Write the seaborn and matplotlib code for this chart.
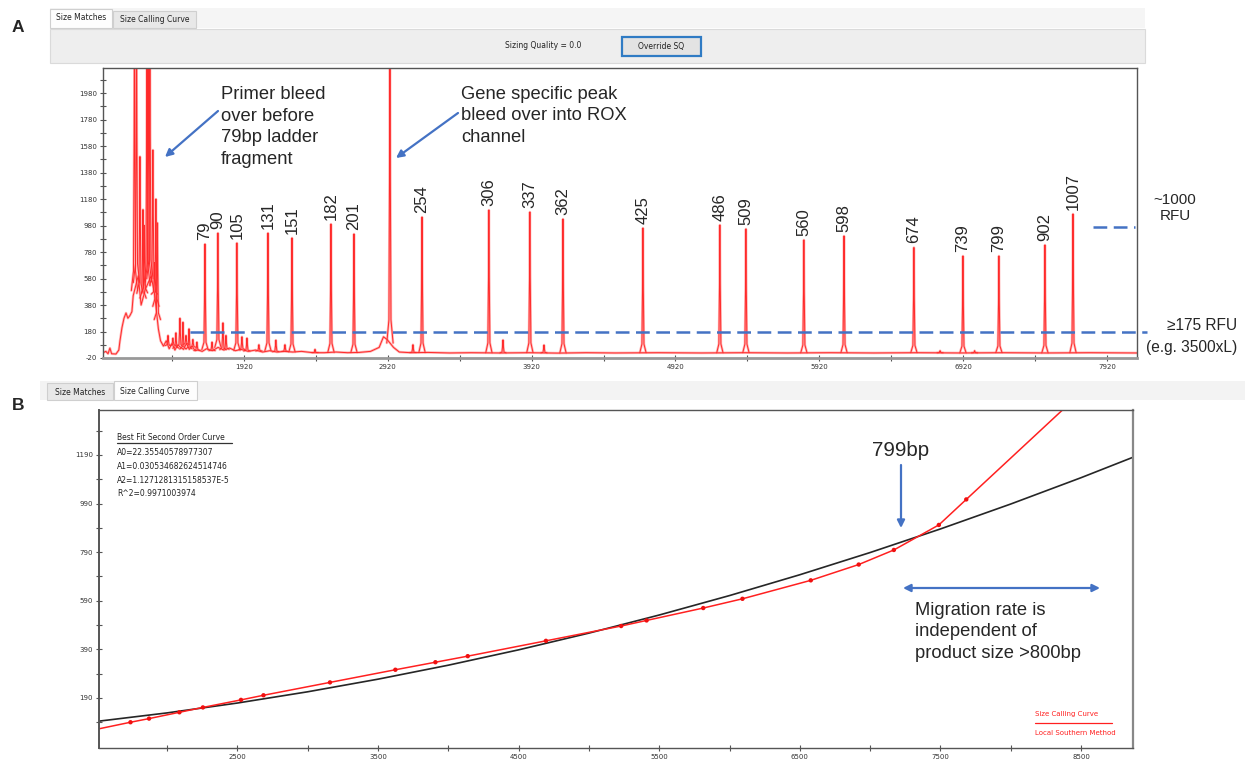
import numpy as np
import pandas as pd
import matplotlib
matplotlib.use("Agg")
import matplotlib.pyplot as plt
from matplotlib.patches import Rectangle, FancyArrowPatch
from matplotlib.lines import Line2D
from matplotlib.ticker import FixedLocator
import seaborn as sns

# ---------------- data: panel A (ROX channel electropherogram) ----------------
ladder_size = [79, 90, 105, 131, 151, 182, 201, 254, 306, 337, 362, 425, 486,
               509, 560, 598, 674, 739, 799, 902, 1007]
ladder_scan = [1649, 1739, 1871, 2087, 2254, 2525, 2685, 3158, 3623, 3908, 4138,
               4694, 5229, 5410, 5813, 6092, 6578, 6919, 7169, 7489, 7684]
ladder_rfu = [840, 923, 848, 923, 886, 991, 916, 1044, 1097, 1082, 1029, 961,
              984, 954, 871, 901, 814, 750, 750, 833, 1067]

# other (non-ladder) peaks: primer bleed cluster, ROX bleed, small artefacts
spike_scan = [1159, 1173, 1197, 1218, 1228, 1246, 1256, 1266, 1287, 1298, 1308,
              1318, 1392, 1426, 1447, 1475, 1496, 1517, 1538, 1565, 1593, 1698,
              1774, 1795, 1906, 1941, 2024, 2142, 2205, 2414, 2935, 3095, 3721,
              4006, 6760, 7000]
spike_rfu = [2600, 2600, 1500, 1100, 980, 2600, 2600, 2600, 1550, 700, 1180,
             1000, 150, 130, 170, 280, 250, 150, 200, 120, 100, 100, 245, 150,
             140, 130, 80, 115, 80, 45, 2600, 80, 116, 78, 35, 35]

# baseline
base_scan = [940, 960, 975, 988, 1000, 1030, 1050, 1058, 1072, 1086, 1100, 1113,
             1127, 1141, 1150, 1185, 1205, 1235, 1275, 1300, 1325, 1340, 1360,
             1380, 1400, 1420, 1440, 1460, 1480, 1500, 1520, 1540, 1560, 1580,
             1600, 1630, 1660, 1700, 1740, 1780, 1820, 1860, 1900, 1950, 2000,
             2050, 2100, 2150, 2200, 2260, 2320, 2400, 2480, 2560, 2640, 2720,
             2800, 2860, 2890, 2915, 2960, 3000, 3080, 3200, 3350, 3500, 3700,
             3900, 4100, 4300, 4500, 4800, 5100, 5400, 5700, 6000, 6300, 6600,
             6900, 7200, 7500, 7800, 8129]
base_rfu = [20, 30, 12, 55, 12, 10, 40, 110, 210, 280, 320, 280, 300, 330, 450,
            600, 380, 500, 600, 450, 200, 110, 70, 110, 50, 90, 40, 80, 60, 45,
            90, 45, 70, 35, 40, 30, 50, 35, 60, 40, 55, 35, 45, 30, 40, 25, 35,
            25, 30, 25, 30, 20, 20, 25, 20, 22, 30, 60, 140, 120, 60, 25, 20, 22,
            18, 20, 18, 20, 17, 20, 18, 20, 18, 20, 18, 20, 18, 20, 18, 20, 18,
            20, 18]

a_xticks = [1920, 2920, 3920, 4920, 5920, 6920, 7920]
a_yticks = [-20, 180, 380, 580, 780, 980, 1180, 1380, 1580, 1780, 1980]
threshold_rfu = 175
typical_rfu = 970

# ---------------- data: panel B (size calling curve) ----------------
curve_scan = [1515] + ladder_scan[1:] + [8400]      # local Southern, with end extensions
curve_size = [63] + ladder_size[1:] + [1392]
fit_scan = [1500, 2000, 2500, 3000, 3500, 4000, 4500, 5000, 5500, 6000, 6500,
            7000, 7500, 8000, 8500, 9000]
fit_size = [93.5, 128.5, 169.1, 215.4, 267.3, 324.8, 388.0, 456.8, 531.3, 611.3,
            697.0, 788.4, 885.4, 988.0, 1096.3, 1210.1]
b_xticks = [2500, 3500, 4500, 5500, 6500, 7500, 8500]
b_yticks = [190, 390, 590, 790, 990, 1190]
fit_text = ["A0=22.35540578977307", "A1=0.030534682624514746",
            "A2=1.1271281315158537E-5", "R^2=0.9971003974"]

# ---------------- style ----------------
sns.set_theme(style="ticks")
plt.rcParams["font.family"] = ["Liberation Sans", "DejaVu Sans"]

W, H = 1245, 761
fig = plt.figure(figsize=(W / 100, H / 100), dpi=100)


def fx(px):
    return px / W


def fy(py):
    return 1 - py / H


def rect(x, y, w, h, fc, ec="none", lw=0.8):
    fig.patches.append(Rectangle((fx(x), fy(y + h)), w / W, h / H, transform=fig.transFigure,
                                 facecolor=fc, edgecolor=ec, linewidth=lw, zorder=0))


def arrow(x0, y0, x1, y1, style="-|>"):
    fig.patches.append(FancyArrowPatch((fx(x0), fy(y0)), (fx(x1), fy(y1)),
                                       transform=fig.transFigure, arrowstyle=style,
                                       mutation_scale=11, color="#4472C4", lw=1.6,
                                       shrinkA=0, shrinkB=0))


BLUE = "#4472C4"

# ---------------- window chrome, panel A ----------------
rect(50, 8, 1095, 20, "#f5f5f5")
rect(50, 9, 62, 19, "#fdfdfd", "#cfcfcf")
rect(113, 11, 83, 17, "#e8e8e8", "#cfcfcf")
rect(50, 29, 1095, 34, "#eeeeee", "#dadada")
rect(622, 37, 79, 19, "#e3e3e3", "#2f7bc4", 1.6)
fig.text(fx(81), fy(18), "Size Matches", fontsize=5.5, family="DejaVu Sans",
         ha="center", va="center", color="#222")
fig.text(fx(155), fy(19), "Size Calling Curve", fontsize=5.5, family="DejaVu Sans",
         ha="center", va="center", color="#222")
fig.text(fx(543), fy(46), "Sizing Quality = 0.0", fontsize=5.5, family="DejaVu Sans",
         ha="center", va="center", color="#222")
fig.text(fx(661), fy(46), "Override SQ", fontsize=5.5, family="DejaVu Sans",
         ha="center", va="center", color="#222")

# ---------------- window chrome, panel B ----------------
rect(40, 381, 1205, 19, "#f3f3f3")
rect(47, 383, 66, 17, "#e8e8e8", "#cfcfcf")
rect(114, 381, 83, 19, "#fdfdfd", "#cfcfcf")
fig.text(fx(80), fy(392), "Size Matches", fontsize=5.5, family="DejaVu Sans",
         ha="center", va="center", color="#222")
fig.text(fx(155), fy(391), "Size Calling Curve", fontsize=5.5, family="DejaVu Sans",
         ha="center", va="center", color="#222")

fig.text(fx(18), fy(28), "A", fontsize=12.5, fontweight="bold", ha="center", va="center")
fig.text(fx(18), fy(405), "B", fontsize=12.5, fontweight="bold", ha="center", va="center")

# ---------------- panel A ----------------
axA = fig.add_axes([fx(103), fy(358), fx(1137) - fx(103), fy(68) - fy(358)])

shape_dx = [-22, -7, -2.5, 0, 2.5, 7, 22]
shape_f = [0, 0.07, 0.55, 1, 0.55, 0.07, 0]
rows = [("base", s, r) for s, r in zip(base_scan, base_rfu)]
for i, (s, h) in enumerate(zip(ladder_scan + spike_scan, ladder_rfu + spike_rfu)):
    b = float(np.interp(s, base_scan, base_rfu))
    for dx, f in zip(shape_dx, shape_f):
        rows.append((f"p{i}", s + dx, b + f * (h - b)))
trace = pd.DataFrame(rows, columns=["pid", "scan", "rfu"])

sns.lineplot(data=trace, x="scan", y="rfu", units="pid", estimator=None, sort=False,
             color="#ffb3b3", lw=1.8, ax=axA, legend=False)
sns.lineplot(data=trace, x="scan", y="rfu", units="pid", estimator=None, sort=False,
             color="#ff2a2a", lw=0.7, ax=axA, legend=False)

for s, h, lab in zip(ladder_scan, ladder_rfu, ladder_size):
    axA.annotate(str(lab), (s, h), xytext=(0, 3), textcoords="offset points",
                 rotation=90, ha="center", va="bottom", fontsize=12)

axA.plot([1545, 8200], [threshold_rfu, threshold_rfu], color=BLUE, lw=1.8,
         ls=(0, (5.5, 2.6)), clip_on=False, zorder=5)
axA.plot([7823, 8115], [typical_rfu, typical_rfu], color=BLUE, lw=1.8,
         ls=(0, (5.5, 2.6)), clip_on=False, zorder=5)

axA.set_xlim(940, 8129)
axA.set_ylim(-20, 2169)
axA.xaxis.set_major_locator(FixedLocator(a_xticks))
axA.xaxis.set_minor_locator(FixedLocator([t - 500 for t in a_xticks] + [8420]))
axA.yaxis.set_major_locator(FixedLocator(a_yticks))
axA.yaxis.set_minor_locator(FixedLocator([t + 100 for t in a_yticks]))
axA.set_xticklabels([str(t) for t in a_xticks])
axA.set_yticklabels([str(t) for t in a_yticks])
axA.set_xlabel("")
axA.set_ylabel("")

# ---------------- panel B ----------------
axB = fig.add_axes([fx(99), fy(748), fx(1133) - fx(99), fy(410) - fy(748)])
fit_df = pd.DataFrame({"scan": fit_scan, "size": fit_size})
curve_df = pd.DataFrame({"scan": curve_scan, "size": curve_size})
pts_df = pd.DataFrame({"scan": ladder_scan[1:], "size": ladder_size[1:]})
sns.lineplot(data=fit_df, x="scan", y="size", color="#262626", lw=1.2, ax=axB)
sns.lineplot(data=curve_df, x="scan", y="size", color="#ff2020", lw=1.1, ax=axB)
sns.scatterplot(data=pts_df, x="scan", y="size", color="#f01010", s=10,
                edgecolor="none", ax=axB, zorder=4)

axB.set_xlim(1515, 8870)
axB.set_ylim(-16, 1375)
axB.xaxis.set_major_locator(FixedLocator(b_xticks))
axB.xaxis.set_minor_locator(FixedLocator([t - 500 for t in b_xticks]))
axB.yaxis.set_major_locator(FixedLocator(b_yticks))
axB.yaxis.set_minor_locator(FixedLocator([t - 100 for t in b_yticks] + [1290]))
axB.set_xticklabels([str(t) for t in b_xticks])
axB.set_yticklabels([str(t) for t in b_yticks])
axB.set_xlabel("")
axB.set_ylabel("")

# fit legend (top-left)
axB.text(0.0174, 0.920, "Best Fit Second Order Curve", transform=axB.transAxes,
         fontsize=5.5, family="DejaVu Sans", va="center", color="#222")
axB.add_line(Line2D([0.0174, 0.129], [0.903, 0.903], transform=axB.transAxes,
                    color="#333", lw=0.9))
for k, t in enumerate(fit_text):
    axB.text(0.0174, 0.873 - k * 0.0405, t, transform=axB.transAxes, fontsize=5.5,
             family="DejaVu Sans", va="center", color="#222")

# method legend (bottom-right)
axB.text(0.905, 0.1006, "Size Calling Curve", transform=axB.transAxes, fontsize=5,
         family="DejaVu Sans", va="center", color="#ff2020")
axB.add_line(Line2D([0.905, 0.98], [0.074, 0.074], transform=axB.transAxes,
                    color="#ff2020", lw=0.9))
axB.text(0.905, 0.044, "Local Southern Method", transform=axB.transAxes, fontsize=5,
         family="DejaVu Sans", va="center", color="#ff2020")

# ---------------- shared tick styling ----------------
for ax in (axA, axB):
    ax.tick_params(which="both", direction="inout", length=5, width=0.8, color="#555",
                   labelsize=5, labelcolor="#333", pad=2)
    ax.tick_params(which="minor", length=4)
    for lab in ax.get_xticklabels() + ax.get_yticklabels():
        lab.set_family("DejaVu Sans")
    for sp in ax.spines.values():
        sp.set_visible(True)
        sp.set_color("#555")
        sp.set_linewidth(1.0)
axA.spines["bottom"].set_color("#999")
axA.spines["bottom"].set_linewidth(2)
axB.spines["right"].set_color("#888")
axB.spines["right"].set_linewidth(1.6)
axB.spines["left"].set_linewidth(1.4)

# ---------------- annotations ----------------
fig.text(fx(221), fy(127), "Primer bleed\nover before\n79bp ladder\nfragment",
         fontsize=13.2, ha="left", va="center", linespacing=1.38)
fig.text(fx(461), fy(116), "Gene specific peak\nbleed over into ROX\nchannel",
         fontsize=13.2, ha="left", va="center", linespacing=1.38)
arrow(218, 111, 165, 157)
arrow(458, 113, 396, 158)

fig.text(fx(1175), fy(208), "~1000\nRFU", fontsize=11, ha="center", va="center",
         linespacing=1.1)
fig.text(fx(1237), fy(326), "\u2265175 RFU", fontsize=11.2, ha="right", va="center")
fig.text(fx(1237), fy(347), "(e.g. 3500xL)", fontsize=11.2, ha="right", va="center")

fig.text(fx(901), fy(450), "799bp", fontsize=14.8, ha="center", va="center")
arrow(901, 465, 901, 528)
arrow(903, 588, 1100, 588, style="<|-|>")
fig.text(fx(915), fy(632), "Migration rate is\nindependent of\nproduct size >800bp",
         fontsize=13.2, ha="left", va="center", linespacing=1.36)

fig.savefig("out.png", dpi=100)
